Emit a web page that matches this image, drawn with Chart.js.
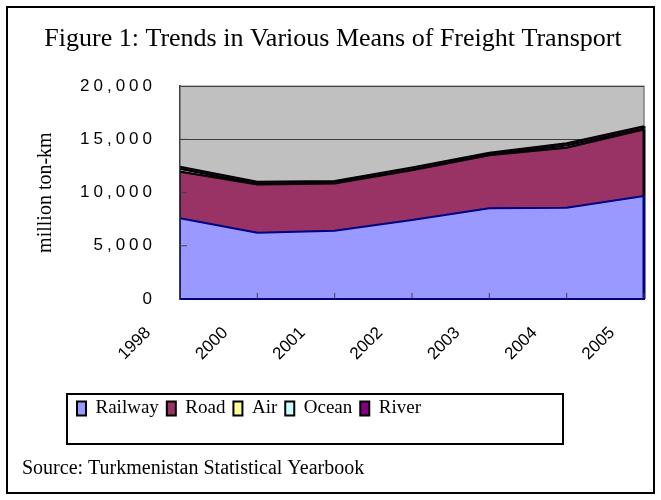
<!DOCTYPE html>
<html>
<head>
<meta charset="utf-8">
<script src="https://cdn.jsdelivr.net/npm/chart.js@4.4.0/dist/chart.umd.min.js"></script>
<style>
  html, body { margin: 0; padding: 0; background: #fff; }
</style>
</head>
<body>
<canvas id="freight" width="661" height="500"></canvas>
<script>
// freight turnover, million ton-km
const years = ['1998', '2000', '2001', '2002', '2003', '2004', '2005'];
const railway = [7580, 6230, 6410, 7420, 8520, 8570, 9670];
const road = [4370, 4540, 4450, 4690, 5000, 5640, 6260];
const air = [10, 10, 10, 10, 10, 10, 10];
const ocean = [250, 60, 40, 60, 60, 200, 80];
const river = [210, 170, 170, 190, 150, 210, 220];
const yTicks = [0, 5000, 10000, 15000, 20000];

const seriesNames = ['Railway', 'Road', 'Air', 'Ocean', 'River'];
const seriesValues = [railway, road, air, ocean, river];
const fillColors = ['#9999FF', '#993366', '#FFFF99', '#CCFFFF', '#800080'];
const lineColors = ['#000080', '#000000', '#000000', '#000000', '#000000'];

const serif = 'Liberation Serif, Times New Roman, serif';
const sans = 'Liberation Sans, Arial, sans-serif';

// grey plot area, area outlines, inside ticks, frames (excel look)
const excelLook = {
    id: 'excelLook',
    beforeDraw(chart) {
        const {ctx, chartArea: a} = chart;
        ctx.letterSpacing = '0px';
        ctx.save();
        ctx.fillStyle = '#C0C0C0';
        ctx.fillRect(a.left, a.top, a.right - a.left, a.bottom - a.top);
        ctx.strokeStyle = '#808080';
        ctx.lineWidth = 1.5;
        ctx.beginPath();
        ctx.moveTo(a.left, a.top);
        ctx.lineTo(a.right, a.top);
        ctx.lineTo(a.right, a.bottom);
        ctx.stroke();
        ctx.restore();
        chart.legend.left = 69;
    },
    afterDatasetsDraw(chart) {
        const {ctx} = chart;
        const x = chart.scales.x, y = chart.scales.y;
        ctx.save();
        chart.data.datasets.forEach((ds, i) => {
            const pts = chart.getDatasetMeta(i).data;
            const prev = i > 0 ? chart.getDatasetMeta(i - 1).data : null;
            [0, pts.length - 1].forEach(j => {
                const base = prev ? prev[j].y : y.bottom;
                ctx.strokeStyle = ds.borderColor;
                ctx.lineWidth = j === 0 ? 2 : 3;
                ctx.beginPath();
                ctx.moveTo(pts[j].x, base);
                ctx.lineTo(pts[j].x, pts[j].y);
                ctx.stroke();
            });
        });
        ctx.strokeStyle = '#404040';
        ctx.lineWidth = 1;
        y.ticks.forEach((t, i) => {
            if (t.value === 0 || t.value === 20000) return;
            const py = y.getPixelForTick(i);
            ctx.beginPath();
            ctx.moveTo(y.right, py);
            ctx.lineTo(y.right + 7, py);
            ctx.stroke();
        });
        years.forEach((yr, i) => {
            if (i === 0) return;
            const px = x.getPixelForTick(i);
            ctx.beginPath();
            ctx.moveTo(px, x.top);
            ctx.lineTo(px, x.top - 6);
            ctx.stroke();
        });
        ctx.restore();
        // y tick labels are drawn after this (z: 1), spaced like the original
        ctx.letterSpacing = '4px';
    },
    afterDraw(chart) {
        const {ctx} = chart;
        ctx.letterSpacing = '0px';
        const lg = chart.legend;
        ctx.save();
        ctx.strokeStyle = '#000';
        ctx.lineWidth = 2;
        ctx.strokeRect(lg.left - 2, lg.top + 3, 496, 50);
        ctx.strokeRect(7, 7, 647, 486);
        ctx.restore();
    }
};

new Chart(document.getElementById('freight'), {
    type: 'line',
    data: {
        labels: years,
        datasets: seriesNames.map((name, i) => ({
            label: name,
            data: seriesValues[i],
            backgroundColor: fillColors[i],
            borderColor: lineColors[i],
            borderWidth: 2,
            pointRadius: 0,
            tension: 0,
            fill: i === 0 ? 'origin' : '-1',
        })),
    },
    options: {
        responsive: false,
        animation: false,
        layout: {padding: {left: 22, right: 17, top: 0, bottom: 0}},
        plugins: {
            tooltip: {enabled: false},
            title: {
                display: true,
                text: 'Figure 1: Trends in Various Means of Freight Transport',
                color: '#000',
                font: {family: serif, size: 26, weight: 'normal'},
                padding: {top: 24, bottom: 31},
            },
            subtitle: {
                display: true,
                position: 'bottom',
                align: 'start',
                text: 'Source: Turkmenistan Statistical Yearbook',
                color: '#000',
                font: {family: serif, size: 20, weight: 'normal'},
                padding: {top: 29, bottom: 19},
            },
            legend: {
                position: 'bottom',
                align: 'start',
                labels: {
                    color: '#000',
                    font: {family: serif, size: 19},
                    boxWidth: 9,
                    boxHeight: 14,
                    padding: 8,
                    generateLabels: (chart) => Chart.defaults.plugins.legend.labels.generateLabels(chart)
                        .map(item => Object.assign(item, {strokeStyle: '#000', lineWidth: 2})),
                },
            },
        },
        scales: {
            x: {
                offset: false,
                grid: {display: false},
                border: {color: '#000080', width: 2, z: 1},
                ticks: {
                    autoSkip: false,
                    maxRotation: 45,
                    minRotation: 45,
                    labelOffset: -32,
                    padding: 16,
                    color: '#000',
                    font: {family: sans, size: 17},
                },
                afterFit: (scale) => {
                    scale.height = 92;
                    scale.paddingLeft = 0;
                    scale.paddingRight = 0;
                },
            },
            y: {
                stacked: true,
                min: 0,
                max: 20000,
                afterBuildTicks: (scale) => { scale.ticks = yTicks.map(v => ({value: v})); },
                grid: {color: '#404040', drawTicks: false},
                border: {color: '#404040', width: 1.5, z: 1},
                ticks: {
                    z: 1,
                    padding: 24,
                    color: '#000',
                    font: {family: sans, size: 17},
                    callback: (v) => v.toLocaleString('en-US'),
                },
                title: {
                    display: true,
                    text: 'million ton-km',
                    color: '#000',
                    font: {family: serif, size: 20},
                    padding: {top: 12, bottom: 0},
                },
                afterFit: (scale) => { scale.width = 158; },
            },
        },
    },
    plugins: [excelLook],
});
</script>
</body>
</html>
